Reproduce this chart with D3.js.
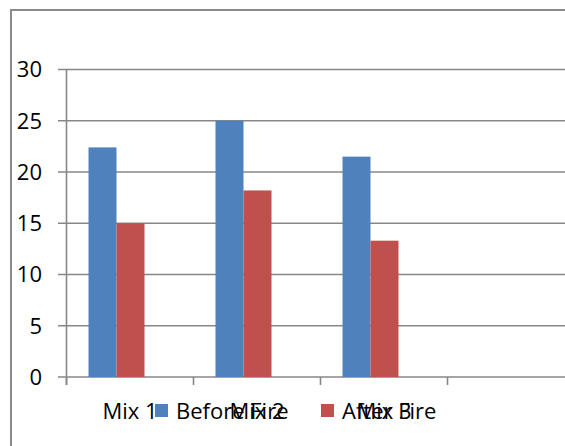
<!DOCTYPE html>
<html>
<head>
<meta charset="utf-8">
<script src="https://cdn.jsdelivr.net/npm/d3@7"></script>
<style>
  html, body { margin: 0; padding: 0; background: #fff; }
  svg { display: block; }
  text { font-family: "Open Sans", sans-serif; fill: #000; }
</style>
</head>
<body>
<script>
// Chart data
const categories = ["Mix 1", "Mix 2", "Mix 3", ""];
const seriesNames = ["Before Fire", "After Fire"];
const beforeFire = [22.4, 25.0, 21.5, null];
const afterFire = [15.0, 18.2, 13.3, null];
const yTicks = [0, 5, 10, 15, 20, 25, 30];

const seriesValues = [beforeFire, afterFire];
const colors = d3.scaleOrdinal().domain(seriesNames).range(["#4F81BD", "#C0504D"]);

const W = 565, H = 446;
const svg = d3.select("body").append("svg").attr("width", W).attr("height", H);

// outer frame
svg.append("path")
  .attr("d", `M11,${H + 5} V10 H${W + 5}`)
  .attr("fill", "none").attr("stroke", "#8a8a8a").attr("stroke-width", 2);

const y = d3.scaleLinear().domain([0, 30]).range([377, 69.5]);
const x = d3.scaleBand().domain(categories).range([66.5, 574.5]);
const inner = d3.scaleBand().domain(seriesNames).range([22, 78]);

const axisColor = "#878787";

// horizontal gridlines with left tick stubs
svg.append("g").selectAll("line").data(yTicks).join("line")
  .attr("x1", 58).attr("x2", W + 10)
  .attr("y1", d => y(d)).attr("y2", d => y(d))
  .attr("stroke", axisColor).attr("stroke-width", 1.6);

// bars
const rows = categories.map((c, i) => ({ cat: c, vals: seriesNames.map((s, k) => ({ s, v: seriesValues[k][i] })) }));
svg.append("g").selectAll("g").data(rows).join("g")
  .attr("transform", d => `translate(${x(d.cat)},0)`)
  .selectAll("rect").data(d => d.vals.filter(e => e.v != null)).join("rect")
  .attr("x", d => inner(d.s))
  .attr("width", inner.bandwidth())
  .attr("y", d => y(d.v))
  .attr("height", d => y(0) - y(d.v))
  .attr("fill", d => colors(d.s));

// value axis line
svg.append("line")
  .attr("x1", 66.5).attr("x2", 66.5).attr("y1", y(30)).attr("y2", 385)
  .attr("stroke", axisColor).attr("stroke-width", 1.6);

// category boundary ticks
const bounds = categories.map(c => x(c)).concat([x.range()[1]]);
svg.append("g").selectAll("line").data(bounds).join("line")
  .attr("x1", d => d).attr("x2", d => d).attr("y1", y(0)).attr("y2", 385)
  .attr("stroke", axisColor).attr("stroke-width", 1.6);

// value labels
svg.append("g").selectAll("text").data(yTicks).join("text")
  .attr("x", 42).attr("y", d => y(d)).attr("dy", "0.36em")
  .attr("text-anchor", "end").attr("font-size", 22)
  .text(d => d);

// category labels
svg.append("g").selectAll("text").data(categories).join("text")
  .attr("x", d => x(d) + x.bandwidth() / 2).attr("y", 419)
  .attr("text-anchor", "middle").attr("font-size", 22)
  .text(d => d);

// legend
const legendX = [155, 321];
const legend = svg.append("g").selectAll("g").data(seriesNames).join("g")
  .attr("transform", (d, i) => `translate(${legendX[i]},404)`);
legend.append("rect").attr("width", 13).attr("height", 13).attr("fill", d => colors(d));
legend.append("text").attr("x", 21).attr("y", 15).attr("font-size", 22).text(d => d);
</script>
</body>
</html>
